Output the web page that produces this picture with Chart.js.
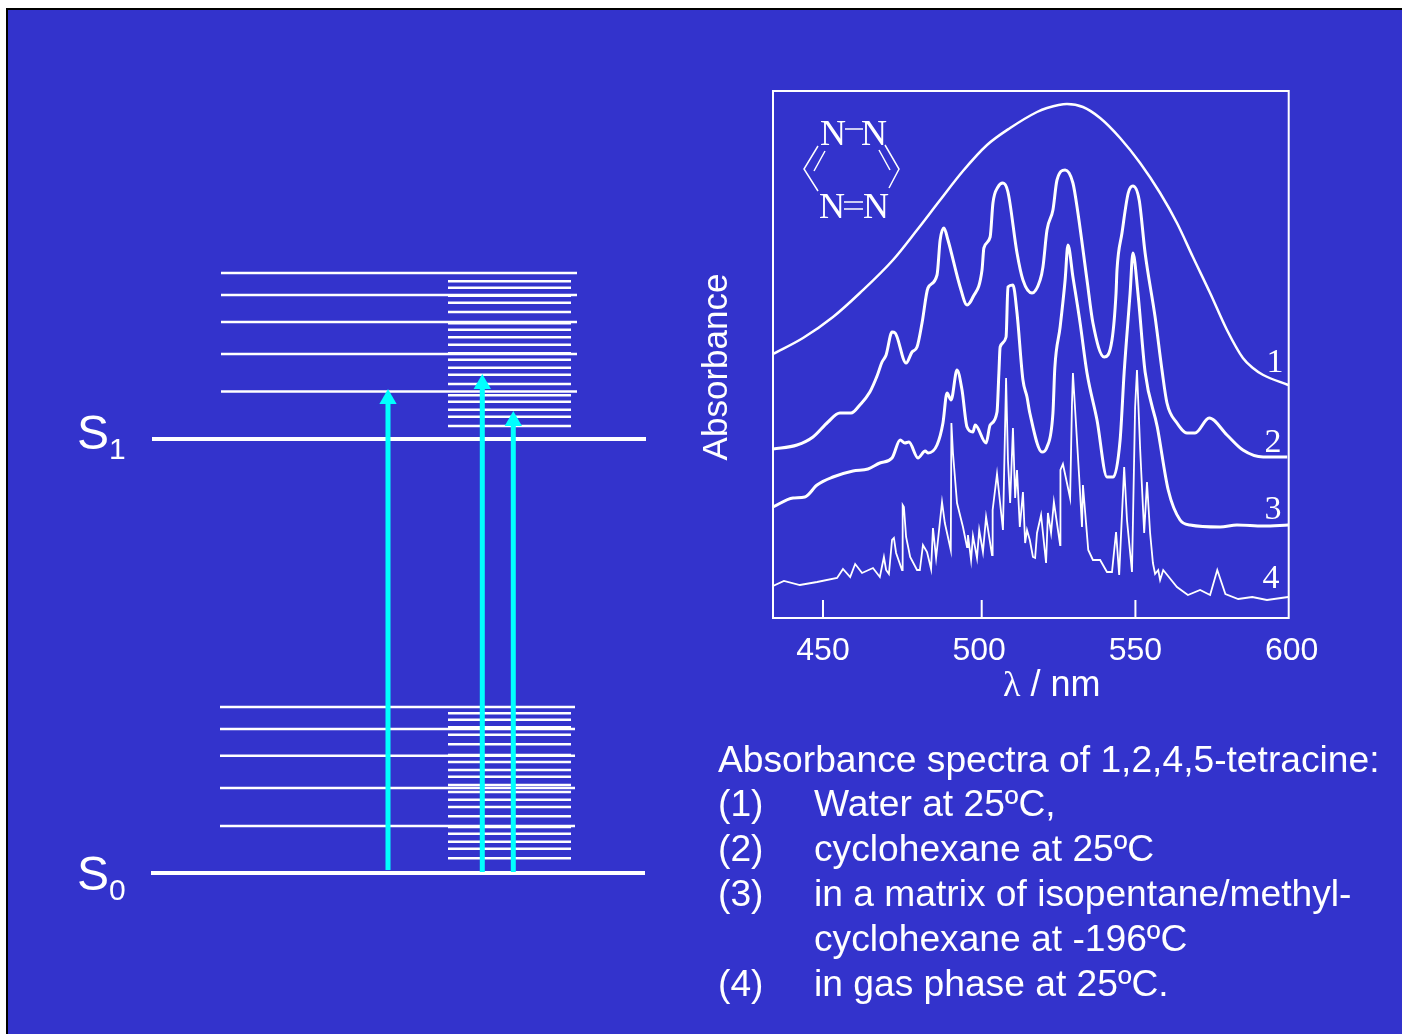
<!DOCTYPE html>
<html>
<head>
<meta charset="utf-8">
<title>Absorbance spectra of 1,2,4,5-tetracine</title>
<script src="https://cdn.jsdelivr.net/npm/chart.js@4"></script>
<style>
    html, body { margin: 0; padding: 0; background: #fff; }
    body { width: 1402px; height: 1034px; overflow: hidden; position: relative; font-family: 'Liberation Sans', Arial, sans-serif; color: #fff; }
    #slide { position: absolute; left: 6px; top: 8px; right: 0; bottom: 0; background: #3333cc; border-left: 2px solid #000; border-top: 2px solid #000; }
    canvas { position: absolute; }
    #levels { left: 0; top: 0; }
    #spectra { left: 700px; top: 60px; }
    svg { position: absolute; left: 0; top: 0; }
    .t { position: absolute; white-space: nowrap; line-height: 1; }
    .cap { font-size: 37.2px; }
    .state { font-size: 48px; }
    .state sub { font-size: 30px; vertical-align: -10px; line-height: 0; }
</style>
</head>
<body>
<div id="slide"></div>
<canvas id="levels" width="700" height="1034"></canvas>
<canvas id="spectra" width="640" height="660"></canvas>

<svg width="1402" height="1034" fill="none" stroke="#fff" stroke-width="1.5">
    <path d="M845 129H863M844 202H863M844 209H863M818 146L804 169L818 191M825 151L814 171M885 145L899 169L889 188M879 150L890 170"/>
    <g fill="#fff" stroke="none" font-family="'Liberation Serif', serif" text-anchor="middle">
        <g font-size="36">
            <text x="833" y="145">N</text>
            <text x="874" y="145">N</text>
            <text x="832" y="218">N</text>
            <text x="876" y="218">N</text>
        </g>
        <g font-size="34">
            <text x="1275" y="372">1</text>
            <text x="1273" y="452">2</text>
            <text x="1273" y="519">3</text>
            <text x="1271" y="588">4</text>
        </g>
    </g>
</svg>

<div class="t state" style="left:77px;top:409px">S<sub>1</sub></div>
<div class="t state" style="left:77px;top:850px">S<sub>0</sub></div>

<div class="t" style="left:714px;top:367px;font-size:35px;transform:translate(-50%,-50%) rotate(-90deg)">Absorbance</div>
<div class="t" style="left:1003px;top:666px;font-size:36px"><span style="font-family:'Liberation Serif',serif">λ</span> / nm</div>

<div class="t cap" style="left:718px;top:741px">Absorbance spectra of 1,2,4,5-tetracine:</div>
<div class="t cap" style="left:718px;top:785px">(1)</div>
<div class="t cap" style="left:814px;top:785px">Water at 25ºC,</div>
<div class="t cap" style="left:718px;top:830px">(2)</div>
<div class="t cap" style="left:814px;top:830px">cyclohexane at 25ºC</div>
<div class="t cap" style="left:718px;top:875px">(3)</div>
<div class="t cap" style="left:814px;top:875px">in a matrix of isopentane/methyl-</div>
<div class="t cap" style="left:814px;top:920px">cyclohexane at -196ºC</div>
<div class="t cap" style="left:718px;top:965px">(4)</div>
<div class="t cap" style="left:814px;top:965px">in gas phase at 25ºC.</div>

<script>
    // energy diagram, heights above S0
    const energyS0 = 0;
    const energyS1 = 434;
    const coarseS1 = [47.6, 85, 117, 144, 166];
    const fineS1 = [13, 22.3, 29.3, 37.3, 43.7, 55, 64.3, 71.3, 79.3, 85.7, 94.3, 101.7, 109.3, 115.7, 127, 136.3, 143.3, 151.3, 157.7];
    const coarseS0 = [47, 85, 117.3, 144, 166];
    const fineS0 = [14.7, 24.3, 31.3, 39.3, 46, 56.7, 66, 73.3, 81, 88, 96.3, 103, 111, 118, 128.7, 138.3, 145.7, 153.3, 159.7];
    const arrowX = [388, 482.3, 513.3];
    const arrowFrom = [3, 1, 1];
    const arrowHead = [474, 489, 452];

    // spectra, wavelength in nm and absorbance in arbitrary units
    const lambda1 = [434, 443.6, 453.2, 461.8, 472.4, 480.1, 487.5, 494.8, 502.5, 509.9, 518.5, 521.7, 528.1, 533.2, 538.7, 545.1, 551.5, 557.9, 563.3, 568.4, 573.9, 579.3, 584.4, 587.6, 590.9, 598.9];
    const abs1 = [264, 280, 301, 325, 358, 388, 418, 447, 473, 490, 506, 510, 514, 511, 500, 480, 455, 425, 395, 361, 325, 288, 260, 250, 243, 233];

    const lambda2 = [434, 441.7, 446.8, 451.6, 455.4, 459, 461.8, 465, 467.3, 468.9, 470.2, 472.1, 473.1, 476.6, 478.5, 480.1, 481.7, 483.6, 486.5, 487.5, 488.7, 490, 493.9, 496.1, 498, 500.9, 501.5, 503.5, 504.4, 506, 507.6, 509.2, 512.1, 514, 516.9, 519.5, 520.4, 521.7, 523.6, 524.9, 527.5, 530, 531.6, 534.5, 536.4, 540, 542.5, 543.8, 544.1, 545.7, 547.7, 549.2, 551.2, 553.1, 556.3, 558.5, 560.1, 563.3, 566.5, 569.1, 573.6, 579.3, 584.4, 590.9, 598.6];
    const abs2 = [169, 173, 181, 196, 205, 205, 213, 226, 242, 256, 263, 286, 285, 255, 266, 271, 295, 330, 343, 378, 390, 378, 331, 313, 321, 348, 370, 381, 415, 431, 435, 426, 365, 338, 325, 338, 351, 388, 408, 438, 448, 435, 405, 338, 295, 261, 278, 325, 348, 385, 425, 432, 418, 365, 301, 248, 215, 195, 185, 185, 200, 183, 168, 161, 161];

    const lambda3 = [434, 440.4, 444.2, 448.1, 453.2, 459.6, 464.4, 468.2, 472.1, 474.7, 476.2, 477.5, 480.4, 482.7, 483.6, 486.5, 488.4, 489.7, 491, 492.9, 494.5, 496.1, 498, 498.7, 502.2, 503.5, 505.7, 506.3, 506.7, 508.6, 509.2, 510.8, 512.1, 514, 515.3, 516.2, 520.1, 521.7, 523.6, 524.2, 525.9, 527.5, 528.4, 530, 532.3, 534.5, 537.7, 540.9, 542.9, 545.1, 546.4, 548.3, 549.2, 550.8, 553.1, 557, 560.5, 564.3, 567.5, 577.1, 582.5, 590.9, 598.9];
    const abs3 = [111, 120, 121, 133, 141, 147, 149, 155, 160, 178, 175, 176, 160, 167, 165, 173, 195, 225, 218, 248, 228, 191, 186, 193, 175, 193, 206, 245, 271, 281, 331, 333, 305, 238, 221, 205, 166, 171, 205, 250, 291, 338, 373, 341, 295, 245, 198, 141, 141, 178, 246, 325, 365, 325, 246, 191, 128, 98, 93, 91, 93, 92, 93];

    const lambda4 = [434, 437.5, 442.6, 448.1, 454.5, 456.4, 458.7, 460.3, 462.5, 466, 468.2, 469.5, 470.2, 471.1, 472.1, 472.7, 473.4, 475.3, 475.5, 475.9, 476.6, 477.9, 480.1, 481, 482, 483.3, 484.6, 485.2, 486.2, 488.1, 489, 490.9, 491.1, 491.6, 492.9, 494.8, 496.1, 496.4, 497.4, 498, 499.3, 500, 501.2, 502.2, 504.1, 504.3, 505.7, 507.6, 508.6, 509.2, 509.9, 510.8, 511.5, 512.1, 513, 514, 514.7, 515.3, 516.2, 517.2, 517.9, 518.5, 519.8, 521.4, 522, 523, 523.9, 525.9, 526, 526.8, 529.1, 529.7, 530, 532, 532.9, 533.2, 534.9, 536.4, 538.7, 540.9, 542.5, 543.8, 544.8, 546.4, 547.3, 548.9, 549.9, 550.5, 551.5, 552.8, 553.7, 554.7, 555.6, 556.3, 557.3, 557.9, 558.9, 563.3, 566.8, 570.7, 573.9, 576.2, 578.8, 582.9, 587.4, 592.1, 598.9];
    const abs4 = [32, 37, 33, 36, 40, 49, 41, 54, 45, 50, 41, 61, 48, 44, 78, 80, 65, 48, 113, 111, 81, 61, 48, 48, 73, 66, 49, 90, 60, 116, 95, 68, 195, 165, 115, 91, 71, 83, 58, 82, 60, 88, 66, 101, 63, 108, 144, 88, 240, 158, 115, 190, 120, 148, 91, 126, 75, 88, 78, 61, 60, 85, 103, 55, 105, 85, 116, 73, 148, 154, 120, 215, 245, 141, 91, 133, 68, 58, 58, 46, 46, 86, 43, 151, 98, 46, 211, 248, 170, 85, 136, 85, 55, 44, 48, 38, 48, 31, 23, 28, 23, 48, 24, 19, 21, 18, 21];

    const tickLabels = [450, 500, 550, 600];
    const tickMarks = [450, 500.8, 550];

    const white = '#ffffff';
    const cyan = '#00ffff';

    function toPoints(xs, ys) {
        return xs.map((x, i) => ({ x: x, y: ys[i] }));
    }

    function levelSet(y, x0, x1, width) {
        return {
            data: [{ x: x0, y: y }, { x: x1, y: y }],
            borderColor: white,
            borderWidth: width,
            pointRadius: 0
        };
    }

    function arrowSet(i) {
        return {
            data: [{ x: arrowX[i], y: arrowFrom[i] }, { x: arrowX[i], y: arrowHead[i] }],
            borderColor: cyan,
            backgroundColor: cyan,
            borderWidth: 5,
            pointStyle: 'triangle',
            pointRadius: [0, 10],
            pointBorderWidth: 0
        };
    }

    function spectrumSet(xs, ys, width, mode) {
        return {
            data: toPoints(xs, ys),
            borderColor: white,
            borderWidth: width,
            pointRadius: 0,
            cubicInterpolationMode: mode
        };
    }

    const levelSets = [
        arrowSet(0),
        arrowSet(1),
        arrowSet(2),
        levelSet(energyS1, 152, 646, 4),
        levelSet(energyS0, 151, 645, 4)
    ];
    coarseS1.forEach(v => levelSets.push(levelSet(energyS1 + v, 221, 577, 2.5)));
    fineS1.forEach(v => levelSets.push(levelSet(energyS1 + v, 448, 571, 2.5)));
    coarseS0.forEach(v => levelSets.push(levelSet(energyS0 + v, 220, 575, 2.5)));
    fineS0.forEach(v => levelSets.push(levelSet(energyS0 + v, 448, 571, 2.5)));

    new Chart(document.getElementById('levels'), {
        type: 'scatter',
        data: { datasets: levelSets.map(d => Object.assign({ showLine: true }, d)) },
        options: {
            responsive: false,
            animation: false,
            layout: { padding: 0, autoPadding: false },
            plugins: { legend: { display: false }, tooltip: { enabled: false } },
            scales: {
                x: { display: false, min: 0, max: 700 },
                y: { display: false, min: -161, max: 873 }
            }
        }
    });

    // frame and inward tick marks of the spectrum
    const framePlugin = {
        id: 'frame',
        beforeDatasetsDraw(chart) {
            const a = chart.chartArea;
            const ctx = chart.ctx;
            ctx.save();
            ctx.strokeStyle = white;
            ctx.lineWidth = 2;
            ctx.strokeRect(a.left, a.top, a.right - a.left, a.bottom - a.top);
            ctx.beginPath();
            tickMarks.forEach(v => {
                const x = chart.scales.x.getPixelForValue(v);
                ctx.moveTo(x, a.bottom);
                ctx.lineTo(x, chart.scales.y.getPixelForValue(18));
            });
            ctx.stroke();
            ctx.restore();
        }
    };

    new Chart(document.getElementById('spectra'), {
        type: 'scatter',
        data: {
            datasets: [
                spectrumSet(lambda1, abs1, 2.5, 'monotone'),
                spectrumSet(lambda2, abs2, 3, 'monotone'),
                spectrumSet(lambda3, abs3, 3, 'monotone'),
                spectrumSet(lambda4, abs4, 1.8, 'default')
            ].map(d => Object.assign({ showLine: true }, d))
        },
        options: {
            responsive: false,
            animation: false,
            layout: { padding: { left: 73, right: 51.3, top: 31, bottom: 52 }, autoPadding: false },
            plugins: { legend: { display: false }, tooltip: { enabled: false } },
            scales: {
                x: {
                    min: 434,
                    max: 599.06,
                    grid: { display: false },
                    border: { display: false },
                    afterBuildTicks: scale => { scale.ticks = tickLabels.map(v => ({ value: v })); },
                    afterFit: scale => { scale.height = 50; },
                    ticks: {
                        autoSkip: false,
                        maxRotation: 0,
                        padding: 6,
                        color: white,
                        font: { family: "'Liberation Sans', Arial, sans-serif", size: 32 }
                    }
                },
                y: { display: false, min: 0, max: 527 }
            }
        },
        plugins: [framePlugin]
    });
</script>
</body>
</html>
